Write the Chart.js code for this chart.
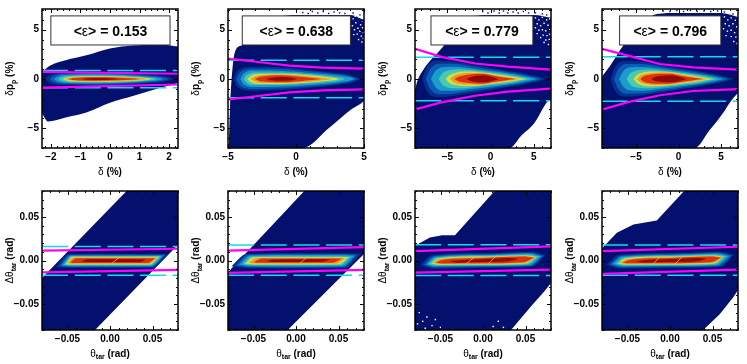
<!DOCTYPE html>
<html>
<head>
<meta charset="utf-8">
<script src="https://cdn.jsdelivr.net/npm/chart.js@4/dist/chart.umd.min.js"></script>
<style>
  html, body { margin: 0; padding: 0; background: #fff; }
  #page { position: relative; width: 747px; height: 364px; overflow: hidden; }
  canvas { position: absolute; }
</style>
</head>
<body>
<div id="page"></div>
<script>
// axis ranges
const xRange1 = [-2.3, 2.3];
const xRange2 = [-5, 5];
const xRange3 = [-8.75, 7];
const xRange4 = [-9, 7];
const thetaRange = [-0.08, 0.08];
const dpRange = [-7, 7.1];

// tick labels
const deltaTicks1 = [-2, -1, 0, 1, 2];
const deltaLabels1 = ['\u22122', '\u22121', '0', '1', '2'];
const deltaTicks2 = [-5, 0, 5];
const deltaLabels2 = ['\u22125', '0', '5'];
const thetaTicks = [-0.05, 0, 0.05];
const thetaLabels = ['\u22120.05', '0.00', '0.05'];

const epsilonValues = ['0.153', '0.638', '0.779', '0.796'];

// colours of the histogram, outermost contour first
const levelColors = ['#06308f', '#0a5cb4', '#1a9ccc', '#4cc8b0', '#cfe044', '#f09a28', '#d8340f', '#940808'];
const fillColor = '#03106e';

// occupied area of each histogram: [x, y]
const upper1 = [[-2.3, 0.75], [-2, 1.4], [-1.5, 1.9], [-0.8, 2.4], [0, 3.1], [0.8, 3.4], [1.7, 3.5], [2.3, 3.3]];
const lower1 = [[-2.3, -3.5], [-2.1, -4.3], [-1.5, -3.9], [-0.8, -3.4], [0, -2.4], [0.8, -1.7], [1.7, -0.9], [2.3, -0.4]];
const upper2 = [[-4.95, -7], [-4.85, -3], [-4.5, 2.7], [-4, 3.4], [-3, 4.5], [-1, 6.4], [0.5, 6.5], [3, 6.5], [4, 6.5], [5, 6]];
const lower2 = [[-4.95, -7], [0.5, -7], [2.4, -5], [4.1, -3.05], [4.85, -2.4], [5, -2.2]];
const upper3 = [[-8.75, -1.2], [-8.55, -0.4], [-7.8, 0.92], [-6.05, 2.73], [-4.1, 4.7], [-1.85, 6.4], [0, 6.5], [5, 6.5], [7, 6.2]];
const lower3 = [[-8.75, -7], [2.2, -7], [3.5, -5.8], [5.05, -4.5], [6.4, -2.5], [7, -1.9]];
const upper4 = [[-9, 0.25], [-8, 1.4], [-6.5, 3.4], [-4.1, 5.7], [-2.55, 6.6], [0, 6.7], [5, 6.7], [7, 6.3]];
const lower4 = [[-9, -7], [1.9, -7], [3.65, -5.2], [5.2, -3.5], [6.2, -2.2], [7, -1.4]];
const upper5 = [[-0.08, -0.02], [0.0195, 0.08], [0.08, 0.14]];
const lower5 = [[-0.08, -0.14], [-0.0176, -0.08], [0.08, 0.018]];
const upper6 = [[-0.08, -0.0135], [0.0098, 0.08], [0.08, 0.155]];
const lower6 = [[-0.08, -0.15], [-0.0098, -0.08], [0.0527, -0.019], [0.08, 0.0075]];
const upper7 = [[-0.08, 0.017], [-0.0625, 0.0264], [-0.048, 0.029], [-0.033, 0.029], [0.0137, 0.08], [0.08, 0.15]];
const lower7 = [[-0.08, -0.09], [0.033, -0.08], [0.0566, -0.0527], [0.072, -0.0358], [0.08, -0.026]];
const upper8 = [[-0.08, 0.014], [-0.076, 0.018], [-0.0625, 0.032], [-0.043, 0.0414], [-0.0156, 0.046], [0.0176, 0.081], [0.08, 0.15]];
const lower8 = [[-0.08, -0.09], [0.039, -0.08], [0.0585, -0.062], [0.074, -0.043], [0.08, -0.034]];

// contour bands: [x, top, bottom]
const contours1 = [
  [[-2.2, 0, 0], [-2.05, 0.4, -0.4], [-1.5, 0.62, -0.62], [-0.5, 0.68, -0.66], [0.6, 0.58, -0.56], [1.4, 0.42, -0.42], [1.95, 0.22, -0.22], [2.15, 0, 0]],
  [[-2.05, 0, 0], [-1.9, 0.34, -0.34], [-1.4, 0.52, -0.52], [-0.5, 0.58, -0.56], [0.6, 0.48, -0.46], [1.3, 0.34, -0.34], [1.8, 0.18, -0.18], [2, 0, 0]],
  [[-1.9, 0, 0], [-1.75, 0.28, -0.28], [-1.3, 0.42, -0.42], [-0.5, 0.47, -0.46], [0.6, 0.38, -0.38], [1.2, 0.26, -0.26], [1.65, 0.13, -0.13], [1.8, 0, 0]],
  [[-1.75, 0, 0], [-1.6, 0.22, -0.22], [-1.2, 0.33, -0.33], [-0.5, 0.36, -0.36], [0.5, 0.3, -0.3], [1.1, 0.2, -0.2], [1.45, 0.1, -0.1], [1.6, 0, 0]],
  [[-1.6, 0, 0], [-1.45, 0.17, -0.17], [-1.1, 0.26, -0.26], [-0.5, 0.29, -0.29], [0.5, 0.24, -0.24], [1, 0.15, -0.15], [1.3, 0.07, -0.07], [1.42, 0, 0]],
  [[-1.5, 0, 0], [-1.35, 0.13, -0.13], [-1, 0.2, -0.2], [-0.5, 0.22, -0.22], [0.4, 0.18, -0.18], [0.9, 0.11, -0.11], [1.15, 0.05, -0.05], [1.25, 0, 0]],
  [[-1.4, 0, 0], [-1.25, 0.09, -0.09], [-0.9, 0.15, -0.15], [-0.5, 0.17, -0.17], [0.3, 0.13, -0.13], [0.7, 0.08, -0.08], [1, 0, 0]],
  [[-0.95, 0, 0], [-0.75, 0.07, -0.07], [-0.4, 0.1, -0.1], [0, 0.08, -0.08], [0.3, 0, 0]]
];
const contours2 = [
  [[-4.6, 0, 0], [-4.3, 0.85, -0.85], [-3.3, 1.25, -1.2], [-1, 1.2, -1.12], [1, 0.92, -0.88], [3, 0.6, -0.6], [4.2, 0.33, -0.33], [4.75, 0, 0]],
  [[-4.4, 0, 0], [-4.1, 0.72, -0.72], [-3.1, 1.05, -1.02], [-1, 1.02, -0.95], [1, 0.78, -0.75], [3, 0.5, -0.5], [4, 0.28, -0.28], [4.55, 0, 0]],
  [[-4.1, 0, 0], [-3.85, 0.55, -0.55], [-3, 0.85, -0.82], [-1, 0.82, -0.76], [1, 0.62, -0.6], [3, 0.37, -0.37], [3.9, 0.19, -0.19], [4.3, 0, 0]],
  [[-3.85, 0, 0], [-3.6, 0.42, -0.42], [-2.8, 0.65, -0.62], [-1, 0.65, -0.6], [1, 0.47, -0.46], [2.5, 0.28, -0.28], [3.3, 0.12, -0.12], [3.6, 0, 0]],
  [[-3.6, 0, 0], [-3.3, 0.33, -0.33], [-2.5, 0.52, -0.5], [-1, 0.54, -0.5], [1, 0.38, -0.36], [2.2, 0.2, -0.2], [2.9, 0.1, -0.1], [3.2, 0, 0]],
  [[-3.35, 0, 0], [-3, 0.27, -0.27], [-2.3, 0.43, -0.4], [-1, 0.45, -0.41], [0.8, 0.3, -0.28], [1.8, 0.15, -0.15], [2.4, 0.06, -0.06], [2.7, 0, 0]],
  [[-3.05, 0, 0], [-2.7, 0.2, -0.2], [-2, 0.33, -0.3], [-1, 0.37, -0.33], [0.3, 0.23, -0.22], [1.2, 0.11, -0.11], [1.9, 0, 0]],
  [[-2.2, 0, 0], [-1.8, 0.12, -0.12], [-1.1, 0.2, -0.19], [-0.4, 0.15, -0.15], [0.1, 0, 0]]
];
const contours3 = [
  [[-7.9, 0, 0], [-7.4, 1.2, -1.2], [-6.3, 1.85, -1.85], [-4.6, 1.8, -1.75], [-2, 1.45, -1.4], [1, 1, -0.96], [3.5, 0.6, -0.6], [5.4, 0.28, -0.28], [6.4, 0, 0]],
  [[-7.5, 0, 0], [-7, 1, -1], [-6, 1.55, -1.55], [-4.4, 1.55, -1.5], [-2, 1.25, -1.2], [1, 0.85, -0.82], [3.3, 0.5, -0.5], [5, 0.22, -0.22], [5.9, 0, 0]],
  [[-6.9, 0, 0], [-6.4, 0.8, -0.8], [-5.5, 1.2, -1.2], [-4.1, 1.25, -1.2], [-2, 1.05, -1], [1, 0.7, -0.68], [3, 0.42, -0.42], [4.6, 0.15, -0.15], [5.4, 0, 0]],
  [[-6, 0, 0], [-5.6, 0.55, -0.55], [-4.8, 0.88, -0.88], [-3.6, 0.98, -0.95], [-1.8, 0.85, -0.8], [1, 0.56, -0.54], [2.8, 0.32, -0.32], [4, 0.1, -0.1], [4.7, 0, 0]],
  [[-5.2, 0, 0], [-4.8, 0.38, -0.38], [-4.1, 0.62, -0.62], [-3, 0.75, -0.72], [-1.5, 0.72, -0.68], [0.8, 0.46, -0.44], [2.5, 0.24, -0.24], [3.6, 0.08, -0.08], [4.2, 0, 0]],
  [[-4.7, 0, 0], [-4.3, 0.3, -0.3], [-3.6, 0.5, -0.5], [-2.6, 0.6, -0.57], [-1.3, 0.62, -0.58], [0.6, 0.38, -0.36], [2, 0.18, -0.18], [3, 0.05, -0.05], [3.4, 0, 0]],
  [[-4.2, 0, 0], [-3.8, 0.2, -0.2], [-3, 0.38, -0.36], [-1.9, 0.5, -0.45], [-1, 0.52, -0.47], [0.5, 0.3, -0.28], [1.8, 0.12, -0.12], [2.9, 0, 0]],
  [[-2.8, 0, 0], [-2.4, 0.15, -0.15], [-1.6, 0.32, -0.3], [-0.9, 0.38, -0.34], [-0.2, 0.3, -0.28], [0.5, 0.13, -0.13], [0.9, 0, 0]]
];
const contours4 = [
  [[-8, 0, 0], [-7.5, 1.15, -1.15], [-6.4, 1.8, -1.8], [-4.7, 1.78, -1.72], [-2, 1.42, -1.38], [1, 0.98, -0.95], [3.5, 0.6, -0.6], [5.4, 0.28, -0.28], [6.4, 0, 0]],
  [[-7.6, 0, 0], [-7.1, 0.98, -0.98], [-6.1, 1.52, -1.5], [-4.5, 1.52, -1.48], [-2, 1.22, -1.18], [1, 0.83, -0.8], [3.3, 0.5, -0.5], [5, 0.22, -0.22], [5.9, 0, 0]],
  [[-7, 0, 0], [-6.5, 0.78, -0.78], [-5.6, 1.18, -1.16], [-4.2, 1.22, -1.18], [-2, 1.03, -0.98], [1, 0.68, -0.66], [3, 0.42, -0.42], [4.6, 0.15, -0.15], [5.4, 0, 0]],
  [[-6.1, 0, 0], [-5.7, 0.55, -0.55], [-4.9, 0.86, -0.86], [-3.7, 0.96, -0.93], [-1.8, 0.84, -0.8], [1, 0.56, -0.54], [2.8, 0.32, -0.32], [4, 0.1, -0.1], [4.7, 0, 0]],
  [[-5.3, 0, 0], [-4.9, 0.4, -0.4], [-4.2, 0.65, -0.65], [-3.1, 0.75, -0.73], [-1.6, 0.74, -0.68], [0.8, 0.46, -0.44], [2.4, 0.24, -0.24], [3.5, 0.08, -0.08], [4.1, 0, 0]],
  [[-4.9, 0, 0], [-4.5, 0.34, -0.34], [-3.8, 0.53, -0.53], [-2.7, 0.63, -0.6], [-1.4, 0.65, -0.58], [0.6, 0.38, -0.36], [2, 0.18, -0.18], [3, 0.05, -0.05], [3.4, 0, 0]],
  [[-4.5, 0, 0], [-4.1, 0.27, -0.27], [-3.4, 0.43, -0.42], [-2.2, 0.52, -0.48], [-1, 0.54, -0.47], [0.5, 0.3, -0.28], [1.8, 0.12, -0.12], [2.8, 0, 0]],
  [[-3.2, 0, 0], [-2.8, 0.18, -0.18], [-1.9, 0.32, -0.3], [-1, 0.38, -0.34], [-0.2, 0.3, -0.28], [0.5, 0.13, -0.13], [1, 0, 0]]
];
const contours5 = [
  [[-0.064, -0.0075, -0.0075], [-0.049, 0.0075, -0.0085], [0, 0.0078, -0.0085], [0.05, 0.0075, -0.0085], [0.068, 0.0075, 0.0075]],
  [[-0.06, -0.0065, -0.0065], [-0.047, 0.0066, -0.0075], [0, 0.0068, -0.0075], [0.049, 0.0066, -0.0075], [0.065, 0.0066, 0.0066]],
  [[-0.057, -0.0058, -0.0058], [-0.046, 0.0057, -0.0066], [0, 0.0058, -0.0066], [0.048, 0.0057, -0.0066], [0.063, 0.0057, 0.0057]],
  [[-0.054, -0.005, -0.005], [-0.045, 0.005, -0.0056], [0, 0.005, -0.0056], [0.047, 0.005, -0.0056], [0.06, 0.005, 0.005]],
  [[-0.052, -0.0042, -0.0042], [-0.044, 0.0043, -0.0047], [0, 0.0043, -0.0047], [0.046, 0.0043, -0.0047], [0.058, 0.0043, 0.0043]],
  [[-0.05, -0.0033, -0.0033], [-0.043, 0.0035, -0.0038], [0, 0.0035, -0.0038], [0.045, 0.0035, -0.0038], [0.056, 0.0035, 0.0035]],
  [[-0.047, -0.0025, -0.0025], [-0.04, 0.0027, -0.003], [0, 0.0027, -0.003], [0.044, 0.0027, -0.003], [0.053, 0.0027, 0.0027]],
  [[-0.034, -0.001, -0.001], [-0.026, 0.0014, -0.0018], [0, 0.0014, -0.0018], [0.035, 0.0014, -0.0016], [0.042, 0.0012, 0.0012]]
];
const contours6 = [
  [[-0.076, -0.0065, -0.0065], [-0.058, 0.0078, -0.0088], [0, 0.0085, -0.009], [0.058, 0.0085, -0.0088], [0.076, 0.0075, 0.0075]],
  [[-0.071, -0.0058, -0.0058], [-0.056, 0.0068, -0.0078], [0, 0.0074, -0.008], [0.056, 0.0074, -0.0078], [0.072, 0.0066, 0.0066]],
  [[-0.067, -0.005, -0.005], [-0.054, 0.0058, -0.0066], [0, 0.0062, -0.0068], [0.054, 0.0062, -0.0066], [0.069, 0.0056, 0.0056]],
  [[-0.063, -0.0042, -0.0042], [-0.052, 0.0047, -0.0055], [0, 0.005, -0.0056], [0.052, 0.005, -0.0055], [0.065, 0.0046, 0.0046]],
  [[-0.06, -0.0034, -0.0034], [-0.05, 0.0038, -0.0045], [0, 0.0041, -0.0046], [0.05, 0.004, -0.0044], [0.062, 0.0037, 0.0037]],
  [[-0.056, -0.0027, -0.0027], [-0.046, 0.003, -0.0035], [0, 0.0032, -0.0036], [0.047, 0.0032, -0.0035], [0.058, 0.003, 0.003]],
  [[-0.05, -0.002, -0.002], [-0.04, 0.0022, -0.0027], [0, 0.0024, -0.0027], [0.043, 0.0024, -0.0026], [0.054, 0.0022, 0.0022]],
  [[-0.036, -0.001, -0.001], [-0.028, 0.001, -0.0016], [0, 0.0012, -0.0016], [0.03, 0.0014, -0.0014], [0.04, 0.0012, 0.0012]]
];
const contours7 = [
  [[-0.074, -0.0055, -0.0055], [-0.06, 0.0062, -0.0095], [0, 0.0085, -0.0085], [0.058, 0.0102, -0.0072], [0.074, 0.0062, 0.0062]],
  [[-0.07, -0.005, -0.005], [-0.058, 0.0052, -0.0082], [0, 0.0075, -0.0075], [0.056, 0.0092, -0.0064], [0.071, 0.0056, 0.0056]],
  [[-0.067, -0.0045, -0.0045], [-0.056, 0.0043, -0.007], [0, 0.0063, -0.0064], [0.054, 0.008, -0.0056], [0.069, 0.005, 0.005]],
  [[-0.064, -0.004, -0.004], [-0.054, 0.0034, -0.0058], [0, 0.0054, -0.0055], [0.052, 0.0068, -0.0045], [0.066, 0.0045, 0.0045]],
  [[-0.061, -0.0035, -0.0035], [-0.052, 0.0024, -0.0048], [0, 0.0045, -0.0046], [0.05, 0.0058, -0.0034], [0.063, 0.004, 0.004]],
  [[-0.059, -0.003, -0.003], [-0.05, 0.0016, -0.0041], [0, 0.0037, -0.0039], [0.049, 0.0052, -0.0028], [0.062, 0.0037, 0.0037]],
  [[-0.056, -0.0027, -0.0027], [-0.047, 0.0008, -0.0034], [0, 0.003, -0.0032], [0.047, 0.0045, -0.002], [0.06, 0.0033, 0.0033]],
  [[-0.04, -0.0015, -0.0015], [-0.03, 0, -0.0025], [0, 0.0014, -0.0018], [0.03, 0.003, -0.0008], [0.042, 0.002, 0.002]]
];
const contours8 = [
  [[-0.075, -0.005, -0.005], [-0.06, 0.0065, -0.0092], [0, 0.0086, -0.0086], [0.06, 0.0102, -0.0072], [0.075, 0.0065, 0.0065]],
  [[-0.071, -0.0045, -0.0045], [-0.058, 0.0055, -0.008], [0, 0.0076, -0.0076], [0.057, 0.0092, -0.0066], [0.073, 0.0058, 0.0058]],
  [[-0.068, -0.004, -0.004], [-0.056, 0.0045, -0.0068], [0, 0.0064, -0.0064], [0.055, 0.008, -0.0055], [0.07, 0.0052, 0.0052]],
  [[-0.064, -0.0038, -0.0038], [-0.054, 0.0035, -0.0057], [0, 0.0054, -0.0054], [0.053, 0.0068, -0.0045], [0.066, 0.0046, 0.0046]],
  [[-0.061, -0.0034, -0.0034], [-0.052, 0.0026, -0.0047], [0, 0.0045, -0.0045], [0.051, 0.0058, -0.0034], [0.063, 0.0042, 0.0042]],
  [[-0.059, -0.003, -0.003], [-0.05, 0.0017, -0.004], [0, 0.0037, -0.0038], [0.05, 0.0052, -0.0027], [0.062, 0.0037, 0.0037]],
  [[-0.056, -0.0026, -0.0026], [-0.047, 0.0009, -0.0033], [0, 0.003, -0.0031], [0.048, 0.0045, -0.002], [0.06, 0.0033, 0.0033]],
  [[-0.04, -0.0014, -0.0014], [-0.03, 0.0002, -0.0024], [0, 0.0014, -0.0018], [0.032, 0.003, -0.0008], [0.043, 0.002, 0.002]]
];

// cut lines
const magentaTop1 = [[-2.3, 0.72], [2.3, 0.53]];
const magentaLow1 = [[-2.3, -0.88], [2.3, -0.56]];
const magentaTop2 = [[-5, 2.07], [-2.93, 1.75], [-0.49, 1.35], [1.95, 1.15], [5, 1.05]];
const magentaLow2 = [[-5, -2.07], [-2.93, -1.75], [-0.49, -1.35], [1.95, -1.15], [5, -1.05]];
const magentaTop3 = [[-8.75, 3.06], [-5.7, 2.24], [-1.8, 1.57], [2, 1.25], [7, 0.96]];
const magentaLow3 = [[-8.75, -3.09], [-5.7, -2.37], [-1.8, -1.7], [2, -1.28], [7, -0.98]];
const magentaTop4 = [[-9, 3.06], [-6.07, 2.4], [-2.2, 1.52], [1.7, 1.18], [7, 0.95]];
const magentaLow4 = [[-9, -3.12], [-6.07, -2.37], [-2.2, -1.65], [1.7, -1.22], [7, -1.02]];
const magentaTop5 = [[-0.08, 0.0113], [0.08, 0.0135]];
const magentaLow5 = [[-0.08, -0.0136], [0.08, -0.0109]];
const magentaTop6 = [[-0.08, 0.0113], [0.08, 0.0154]];
const magentaLow6 = [[-0.08, -0.0143], [0.08, -0.0109]];
const magentaTop7 = [[-0.08, 0.0109], [0.08, 0.0162]];
const magentaLow7 = [[-0.08, -0.0139], [0.08, -0.0105]];
const magentaTop8 = [[-0.08, 0.0109], [0.08, 0.0158]];
const magentaLow8 = [[-0.08, -0.0154], [0.08, -0.0105]];
const cyanCuts = [[0.87, -0.9], [1.9, -1.9], [2.2, -2.2], [2.25, -2.25], [0.0162, -0.017], [0.0177, -0.017], [0.0181, -0.0174], [0.0177, -0.017]];

// thin bright streaks in the theta peaks
const streak5 = [[0.002, -0.0035], [0.012, 0.0045]];
const streak6 = [[0.004, -0.0035], [0.014, 0.0045]];
const streak7 = [[-0.02, -0.004], [-0.01, 0.004], [null, null], [0.006, -0.004], [0.016, 0.006]];
const streak8 = [[-0.02, -0.004], [-0.012, 0.004], [null, null], [0.006, -0.004], [0.016, 0.006]];

// isolated filled bins above the acceptance
const specks2 = [[0.5, 6.75], [0.9, 6.65], [1.2, 6.85], [1.6, 6.7], [2, 6.85], [2.4, 6.65], [2.8, 6.8], [3.2, 6.7], [3.6, 6.65], [4.2, 6.7], [4.7, 6.5]];
const specks3 = [[-0.9, 6.85], [-0.3, 6.7], [0.4, 6.9], [1, 6.7], [1.5, 6.9], [2, 6.7], [2.6, 6.8], [3.2, 6.7], [3.8, 6.85], [4.4, 6.7], [5.2, 6.7], [6, 6.6], [6.5, 6.5]];
const specks4 = [[-1.8, 6.9], [-1, 6.85], [-0.2, 6.95], [0.6, 6.85], [1.4, 6.95], [2.2, 6.85], [3, 6.9], [3.8, 6.85], [4.6, 6.9], [5.4, 6.8], [6.4, 6.6]];
// empty bins inside the filled area
const holes2 = [[4.2, 6.1], [4.6, 6.3], [4.9, 5.9], [4.4, 5.7], [4.75, 5.5], [4.15, 5.4], [4.55, 5.15], [4.9, 5.2], [4.3, 5], [4.7, 4.85], [4.95, 4.7], [4.5, 4.55], [4.8, 4.35], [4.25, 4.5], [4.95, 4.1], [4.6, 4], [4.85, 3.75], [4.35, 6.35], [4.85, 6.15]];
const holes3 = [[5.2, 6.2], [5.6, 6], [6, 6.25], [6.5, 6], [6.85, 6.1], [5.4, 5.6], [5.8, 5.4], [6.2, 5.65], [6.65, 5.45], [5.2, 5.2], [5.6, 4.95], [6, 5], [6.4, 4.9], [6.85, 5], [6.1, 4.45], [6.55, 4.4], [6.85, 4.55], [5.8, 4.2], [6.4, 3.95], [6.8, 4], [6.2, 3.7], [6.7, 3.5], [5.4, 4.6]];
const holes4 = [[5.4, 6.3], [5.8, 6], [6.2, 6.2], [6.7, 5.95], [5.5, 5.6], [5.95, 5.4], [6.4, 5.6], [6.85, 5.3], [5.3, 5.1], [5.75, 4.85], [6.2, 4.95], [6.6, 4.7], [6.2, 4.3], [6.75, 4.25], [5.6, 4.4], [6.5, 3.8], [6.9, 3.6]];
const holes7 = [[-0.075, -0.06], [-0.071, -0.07], [-0.066, -0.065], [-0.06, -0.075], [-0.056, -0.068], [-0.05, -0.077], [-0.077, -0.073], [-0.068, -0.078], [0.012, -0.076], [0.018, -0.07], [0.024, -0.077]];

// frame position of each panel on the page
const frameLefts = [42, 228, 415, 602];
const frameTops = [7, 189];
const frameWidth = 136;
const frameHeight = 141;

const panels = [
  { x: xRange1, ticks: deltaTicks1, labels: deltaLabels1, minor: 0.2, upper: upper1, lower: lower1, heat: contours1, top: magentaTop1, low: magentaLow1, eps: epsilonValues[0], box: [-2, 2.03] },
  { x: xRange2, ticks: deltaTicks2, labels: deltaLabels2, minor: 1, upper: upper2, lower: lower2, heat: contours2, top: magentaTop2, low: magentaLow2, specks: specks2, holes: holes2, eps: epsilonValues[1], box: [-3.95, 4] },
  { x: xRange3, ticks: deltaTicks2, labels: deltaLabels2, minor: 1, upper: upper3, lower: lower3, heat: contours3, top: magentaTop3, low: magentaLow3, specks: specks3, holes: holes3, eps: epsilonValues[2], box: [-6.9, 4.9] },
  { x: xRange4, ticks: deltaTicks2, labels: deltaLabels2, minor: 1, upper: upper4, lower: lower4, heat: contours4, top: magentaTop4, low: magentaLow4, specks: specks4, holes: holes4, eps: epsilonValues[3], box: [-6.93, 4.98] },
  { x: thetaRange, ticks: thetaTicks, labels: thetaLabels, minor: 0.01, upper: upper5, lower: lower5, heat: contours5, top: magentaTop5, low: magentaLow5, streak: streak5 },
  { x: thetaRange, ticks: thetaTicks, labels: thetaLabels, minor: 0.01, upper: upper6, lower: lower6, heat: contours6, top: magentaTop6, low: magentaLow6, streak: streak6 },
  { x: thetaRange, ticks: thetaTicks, labels: thetaLabels, minor: 0.01, upper: upper7, lower: lower7, heat: contours7, top: magentaTop7, low: magentaLow7, streak: streak7, holes: holes7 },
  { x: thetaRange, ticks: thetaTicks, labels: thetaLabels, minor: 0.01, upper: upper8, lower: lower8, heat: contours8, top: magentaTop8, low: magentaLow8, streak: streak8 }
];

function toPoints(list) {
  return list.map(([x, y]) => ({ x, y }));
}

function lineDataset(points, color, width, dash) {
  return { data: toPoints(points), borderColor: color, borderWidth: width, borderDash: dash || [], pointRadius: 0, fill: false, spanGaps: false };
}

// two edges of a band, filled between them
function bandDatasets(upper, lower, color, smooth) {
  const edge = (points, fill) => ({
    data: toPoints(points),
    backgroundColor: color,
    borderWidth: 0,
    pointRadius: 0,
    fill,
    cubicInterpolationMode: smooth ? 'monotone' : 'default'
  });
  return [edge(upper, '+1'), edge(lower, false)];
}

function speckDataset(points, color) {
  return { data: toPoints(points), showLine: false, pointStyle: 'rect', pointRadius: 1, borderWidth: 0, backgroundColor: color };
}

// first dataset is painted last, so the lines come first
function buildDatasets(panel, upperRow, cuts) {
  const [xMin, xMax] = panel.x;
  const sets = [
    lineDataset(panel.top, '#ff00ff', 2.2),
    lineDataset(panel.low, '#ff00ff', 2.2),
    lineDataset([[xMin, cuts[0]], [xMax, cuts[0]]], '#0fdcf0', 1.5, [26, 6.7]),
    lineDataset([[xMin, cuts[1]], [xMax, cuts[1]]], '#0fdcf0', 1.5, [26, 6.7])
  ];
  if (panel.streak) sets.push(lineDataset(panel.streak, '#f2b43c', 0.8));
  for (let i = panel.heat.length - 1; i >= 0; i--) {
    const band = panel.heat[i];
    sets.push(...bandDatasets(band.map(p => [p[0], p[1]]), band.map(p => [p[0], p[2]]), levelColors[i], true));
  }
  if (panel.holes) sets.push(speckDataset(panel.holes, '#ffffff'));
  sets.push(...bandDatasets(panel.upper, panel.lower, fillColor, upperRow));
  if (panel.specks) sets.push(speckDataset(panel.specks, fillColor));
  return sets;
}

function drawParts(ctx, parts, x, y, size, subSize) {
  const fonts = parts.map(p => `${p.greek ? 'normal' : 'bold'} ${p.sub ? subSize : size}px "Liberation Sans", Arial, sans-serif`);
  let total = 0;
  const widths = parts.map((p, i) => { ctx.font = fonts[i]; const w = ctx.measureText(p.text).width; total += w; return w; });
  let pos = x - total / 2;
  ctx.textAlign = 'left';
  ctx.textBaseline = 'alphabetic';
  parts.forEach((p, i) => {
    ctx.font = fonts[i];
    ctx.fillText(p.text, pos, y + (p.sub ? 2.5 : 0));
    pos += widths[i];
  });
}

const rootFrame = {
  id: 'rootFrame',
  afterDraw(chart, args, opts) {
    const { ctx, chartArea: area, scales } = chart;
    const panel = opts.panel;
    ctx.save();

    if (panel.eps) {
      const left = scales.x.getPixelForValue(panel.box[0]);
      const right = scales.x.getPixelForValue(panel.box[1]);
      const top = scales.y.getPixelForValue(6.4);
      const bottom = scales.y.getPixelForValue(3.45);
      ctx.fillStyle = '#ffffff';
      ctx.fillRect(left, top, right - left, bottom - top);
      ctx.strokeStyle = '#333333';
      ctx.lineWidth = 1;
      ctx.strokeRect(left, top, right - left, bottom - top);
      ctx.fillStyle = '#000000';
      const label = [{ text: '<' }, { text: '\u03b5', greek: true }, { text: `> = ${panel.eps}` }];
      drawParts(ctx, label, (left + right) / 2, (top + bottom) / 2 + 5.5, 14, 14);
    }

    ctx.strokeStyle = '#000000';
    ctx.lineWidth = 1;
    const tickMarks = (scale, values, length) => {
      values.forEach(v => {
        ctx.beginPath();
        if (scale.isHorizontal()) {
          const px = Math.round(scale.getPixelForValue(v)) + 0.5;
          ctx.moveTo(px, area.bottom); ctx.lineTo(px, area.bottom - length);
          ctx.moveTo(px, area.top); ctx.lineTo(px, area.top + length);
        } else {
          const py = Math.round(scale.getPixelForValue(v)) + 0.5;
          ctx.moveTo(area.left, py); ctx.lineTo(area.left + length, py);
          ctx.moveTo(area.right, py); ctx.lineTo(area.right - length, py);
        }
        ctx.stroke();
      });
    };
    const minorValues = (scale, step) => {
      const out = [];
      const first = Math.ceil(scale.min / step);
      const last = Math.floor(scale.max / step);
      for (let i = first; i <= last; i++) out.push(i * step);
      return out;
    };
    tickMarks(scales.x, panel.ticks, 4);
    tickMarks(scales.x, minorValues(scales.x, panel.minor), 2);
    tickMarks(scales.y, panel.yTicks, 4);
    tickMarks(scales.y, minorValues(scales.y, panel.yMinor), 2);

    ctx.lineWidth = 1.5;
    ctx.strokeRect(area.left, area.top, area.right - area.left, area.bottom - area.top);

    ctx.fillStyle = '#000000';
    const midX = (area.left + area.right) / 2;
    const midY = (area.top + area.bottom) / 2;
    drawParts(ctx, panel.xTitle, midX, area.bottom + 26.5, 10, 7);
    ctx.translate(area.left - 29, midY);
    ctx.rotate(-Math.PI / 2);
    drawParts(ctx, panel.yTitle, 0, 0, 10, 7);
    ctx.restore();
  }
};

const deltaTitle = [{ text: '\u03b4', greek: true }, { text: ' (%)' }];
const dpTitle = [{ text: '\u03b4', greek: true }, { text: 'p' }, { text: 'p', sub: true }, { text: ' (%)' }];
const thetaTitle = [{ text: '\u03b8', greek: true }, { text: 'tar', sub: true }, { text: ' (rad)' }];
const dThetaTitle = [{ text: '\u0394\u03b8', greek: true }, { text: 'tar', sub: true }, { text: ' (rad)' }];

const page = document.getElementById('page');

panels.forEach((panel, index) => {
  const upperRow = index < 4;
  panel.yRange = upperRow ? dpRange : thetaRange;
  panel.yTicks = upperRow ? deltaTicks2 : thetaTicks;
  panel.yLabels = upperRow ? deltaLabels2 : thetaLabels;
  panel.yMinor = upperRow ? 1 : 0.01;
  panel.xTitle = upperRow ? deltaTitle : thetaTitle;
  panel.yTitle = upperRow ? dpTitle : dThetaTitle;

  const canvas = document.createElement('canvas');
  canvas.width = 187;
  canvas.height = 182;
  canvas.style.left = (frameLefts[index % 4] - 42) + 'px';
  canvas.style.top = (frameTops[upperRow ? 0 : 1] - 7) + 'px';
  page.appendChild(canvas);

  const tickFont = { family: '"Liberation Sans", Arial, sans-serif', size: 10, weight: 'bold' };
  new Chart(canvas, {
    type: 'line',
    data: { datasets: buildDatasets(panel, upperRow, cyanCuts[index]) },
    plugins: [rootFrame],
    options: {
      responsive: false,
      animation: false,
      layout: { padding: { top: 7, right: 187 - 42 - frameWidth, left: 0, bottom: 0 } },
      plugins: { legend: { display: false }, tooltip: { enabled: false }, rootFrame: { panel } },
      scales: {
        x: {
          type: 'linear',
          min: panel.x[0],
          max: panel.x[1],
          afterBuildTicks: scale => { scale.ticks = panel.ticks.map(value => ({ value })); },
          afterFit: scale => { scale.height = 182 - 7 - frameHeight; },
          grid: { display: false, drawTicks: false },
          border: { display: false },
          ticks: { color: '#000', font: tickFont, padding: 3, maxRotation: 0, autoSkip: false, callback: v => panel.labels[panel.ticks.indexOf(v)] }
        },
        y: {
          type: 'linear',
          min: panel.yRange[0],
          max: panel.yRange[1],
          afterBuildTicks: scale => { scale.ticks = panel.yTicks.map(value => ({ value })); },
          afterFit: scale => { scale.width = 42; },
          grid: { display: false, drawTicks: false },
          border: { display: false },
          ticks: { color: '#000', font: tickFont, padding: 3, autoSkip: false, callback: v => panel.yLabels[panel.yTicks.indexOf(v)] }
        }
      }
    }
  });
});
</script>
</body>
</html>
